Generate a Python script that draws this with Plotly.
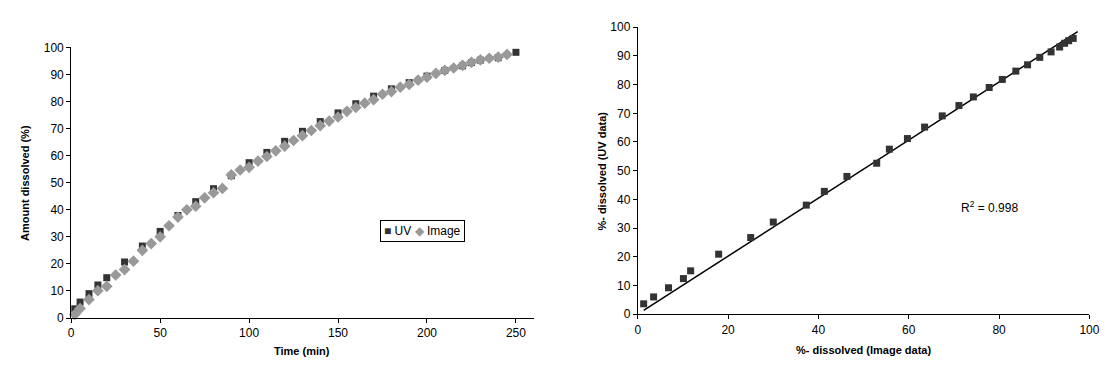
import numpy as np
import plotly.graph_objects as go

# Dissolution profile: UV measurements
uv_time = [2, 5, 10, 15, 20, 30, 40, 50, 60, 70, 80, 90, 100, 110, 120, 130, 140,
           150, 160, 170, 180, 190, 200, 210, 220, 225, 230, 240, 250]
uv_amount = [3.4, 5.9, 9.0, 12.2, 14.9, 20.7, 26.6, 32.0, 37.9, 43.0, 47.8, 52.6, 57.4,
             61.2, 65.3, 69.0, 72.6, 75.8, 79.2, 82.0, 84.7, 87.0, 89.4, 91.5, 93.2,
             94.4, 95.3, 96.2, 98.2]

# Dissolution profile: image analysis
img_time = [2, 5, 10, 15, 20, 25, 30, 35, 40, 45, 50, 55, 60, 65, 70, 75, 80, 85, 90, 95,
            100, 105, 110, 115, 120, 125, 130, 135, 140, 145, 150, 155, 160, 165, 170,
            175, 180, 185, 190, 195, 200, 205, 210, 215, 220, 225, 230, 235, 240, 245]
img_amount = [1.3, 3.5, 6.8, 10.1, 11.7, 15.9, 17.9, 21.0, 25.0, 27.5, 30.0, 34.1, 37.3,
              40.0, 41.3, 44.4, 46.3, 47.9, 52.9, 54.7, 55.7, 58.0, 59.7, 61.8, 63.5,
              65.6, 67.4, 69.3, 71.1, 72.8, 74.3, 76.4, 77.8, 79.4, 80.7, 82.7, 83.7,
              85.3, 86.3, 87.9, 89.0, 90.4, 91.5, 92.4, 93.4, 94.5, 95.4, 96.0, 96.4, 97.4]

# Paired values (image vs UV) for the correlation plot
pair_image = [1.3, 3.5, 6.8, 10.1, 11.7, 17.9, 25.0, 30.0, 37.3, 41.3, 46.3, 52.9, 55.7,
              59.7, 63.5, 67.4, 71.1, 74.3, 77.8, 80.7, 83.7, 86.3, 89.0, 91.5, 93.4,
              94.5, 95.4, 96.4]
pair_uv = [3.6, 6.0, 9.2, 12.4, 15.1, 20.9, 26.7, 32.1, 38.0, 42.8, 48.0, 52.6, 57.5,
           61.2, 65.2, 69.1, 72.7, 75.7, 79.0, 81.8, 84.7, 86.9, 89.5, 91.4, 93.1, 94.4,
           95.3, 96.1]
r_squared_label = "R<sup>2</sup> = 0.998"

# Linear trendline through the origin
px_arr = np.array(pair_image)
py_arr = np.array(pair_uv)
slope = float((px_arr * py_arr).sum() / (px_arr * px_arr).sum())
trend_x = [float(px_arr.min()), float(px_arr.max()) + 1.0]
trend_y = [slope * v for v in trend_x]

FONT = "Liberation Sans, Arial, sans-serif"
W, H = 1112, 377

fig = go.Figure()

fig.add_trace(go.Scatter(
    x=uv_time, y=uv_amount, mode="markers", name="UV",
    marker=dict(symbol="square", size=7, color="#333333"),
    xaxis="x", yaxis="y", showlegend=False, cliponaxis=False))
fig.add_trace(go.Scatter(
    x=img_time, y=img_amount, mode="markers", name="Image",
    marker=dict(symbol="diamond", size=9, color="#999999"),
    xaxis="x", yaxis="y", showlegend=False, cliponaxis=False))

fig.add_trace(go.Scatter(
    x=trend_x, y=trend_y, mode="lines", line=dict(color="black", width=1.5),
    xaxis="x2", yaxis="y2", showlegend=False, cliponaxis=False))
fig.add_trace(go.Scatter(
    x=pair_image, y=pair_uv, mode="markers",
    marker=dict(symbol="square", size=7, color="#333333"),
    xaxis="x2", yaxis="y2", showlegend=False, cliponaxis=False))

axis_common = dict(showgrid=False, zeroline=False, showline=True, linecolor="black",
                   linewidth=1, ticks="outside", ticklen=4, tickcolor="black",
                   tickfont=dict(family=FONT, size=12, color="black"))

fig.update_layout(
    width=W, height=H,
    margin=dict(l=0, r=0, t=0, b=0),
    paper_bgcolor="white", plot_bgcolor="white",
    font=dict(family=FONT, size=12, color="black"),
    xaxis=dict(domain=[69 / W, 537 / W], range=[0, 260], tickvals=[0, 50, 100, 150, 200, 250],
               anchor="y", **axis_common),
    yaxis=dict(domain=[(H - 323) / H, (H - 42) / H], range=[0, 100],
               tickvals=list(range(0, 101, 10)), anchor="x", **axis_common),
    xaxis2=dict(domain=[642.3 / W, 1099.3 / W], range=[0, 100], tickvals=list(range(0, 101, 20)),
                anchor="y2", **axis_common),
    yaxis2=dict(domain=[(H - 319) / H, (H - 21) / H], range=[0, 100],
                tickvals=list(range(0, 101, 10)), anchor="x2", **axis_common),
)

title_font = dict(family=FONT, size=11, color="black")
annotations = [
    dict(text="<b>Amount dissolved (%)</b>", x=22 / W, y=(H - 183) / H, xref="paper", yref="paper",
         textangle=-90, showarrow=False, font=title_font, xanchor="center", yanchor="middle"),
    dict(text="<b>Time (min)</b>", x=303 / W, y=(H - 357) / H, xref="paper", yref="paper",
         showarrow=False, font=title_font, xanchor="center", yanchor="middle"),
    dict(text="<b>%- dissolved (UV data)</b>", x=606 / W, y=(H - 170) / H, xref="paper", yref="paper",
         textangle=-90, showarrow=False, font=title_font, xanchor="center", yanchor="middle"),
    dict(text="<b>%- dissolved (Image data)</b>", x=871 / W, y=(H - 356) / H, xref="paper", yref="paper",
         showarrow=False, font=title_font, xanchor="center", yanchor="middle"),
    dict(text=r_squared_label, x=77.8, y=37.2, xref="x2", yref="y2", showarrow=False,
         font=dict(family=FONT, size=12, color="black"), xanchor="center", yanchor="middle"),
    dict(text='<span style="color:#333333">■</span> UV <span style="color:#999999">◆</span> Image',
         x=424.5 / W, y=(H - 233) / H, xref="paper", yref="paper", showarrow=False,
         font=dict(family=FONT, size=12, color="black"), xanchor="center", yanchor="middle",
         bordercolor="black", borderwidth=1, borderpad=3, bgcolor="white"),
]
fig.update_layout(annotations=annotations)

fig.write_html("out.html")
